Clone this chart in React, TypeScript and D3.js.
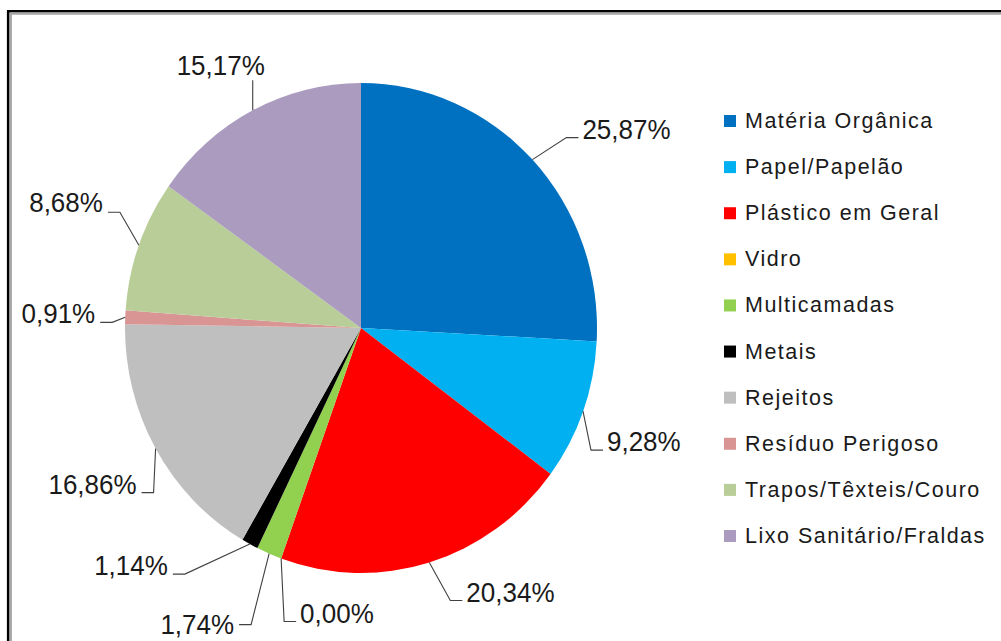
import React from 'react';
import * as d3 from 'd3';

const categories = [
  'Matéria Orgânica',
  'Papel/Papelão',
  'Plástico em Geral',
  'Vidro',
  'Multicamadas',
  'Metais',
  'Rejeitos',
  'Resíduo Perigoso',
  'Trapos/Têxteis/Couro',
  'Lixo Sanitário/Fraldas',
];
const shares = [25.87, 9.28, 20.34, 0.0, 1.74, 1.14, 16.86, 0.91, 8.68, 15.17];
const colors = [
  '#0070c0', '#00b0f0', '#ff0000', '#ffc000', '#92d050',
  '#000000', '#bfbfbf', '#d99594', '#b8cd97', '#aa9bbf',
];

// where each leader line ends, relative to the slice's edge point (px)
const labelEnds = [
  [46, -22], [20, 39], [33, 38], [15, 63], [-30, 71],
  [-77, 30], [-14, 44], [-25, 5], [-31, -33], [0, -30],
];
const labelSides = ['r', 'r', 'r', 'r', 'l', 'l', 'l', 'l', 'l', 't'];
const labelDrop = [1, 1, 2, 1, 9, 1, 1, 1, 0, -5];

const W = 1001;
const H = 641;
const cx = 361;
const cy = 328;
const radius = 236;
const ky = 1.038; // the original picture is slightly stretched vertically
const textSy = 1.04;
const font = '"Liberation Sans", Arial, sans-serif';

const fmt = (v: number) => d3.format('.2f')(v).replace('.', ',') + '%';

export default function App() {
  const pie = d3.pie<number>().sort(null).value(d => d);
  const arcs = pie(shares);
  const arc = d3.arc<d3.PieArcDatum<number>>().innerRadius(0).outerRadius(radius);

  const legendY = d3.scaleLinear().domain([0, categories.length - 1]).range([128, 543]);

  const labels = arcs.map((a, i) => {
    const mid = (a.startAngle + a.endAngle) / 2;
    const ax = cx + radius * Math.sin(mid);
    const ay = cy - radius * ky * Math.cos(mid);
    const ex = ax + labelEnds[i][0];
    const ey = ay + labelEnds[i][1];
    const side = labelSides[i];
    let pts: [number, number][];
    let tx: number;
    let anchor: string;
    if (side === 'r') {
      pts = [[ax, ay], [ex - 12, ey], [ex, ey]];
      tx = ex + 4;
      anchor = 'start';
    } else if (side === 'l') {
      pts = [[ax, ay], [ex + 12, ey], [ex, ey]];
      tx = ex - 5;
      anchor = 'end';
    } else {
      pts = [[ax, ay], [ex, ey]];
      tx = ex - 32;
      anchor = 'middle';
    }
    return { pts, tx, ty: ey + labelDrop[i], anchor, text: fmt(shares[i]) };
  });

  const line = d3.line();

  return (
    <svg
      width={W}
      height={H}
      style={{ position: 'absolute', left: 0, top: 0, background: '#fff' }}
    >
      <rect x={0} y={0} width={W} height={H} fill="#fff" />
      {/* frame */}
      <path d={`M8.2,${H + 10}V11.2H${W + 10}`} fill="none" stroke="#000" strokeWidth={2.6} />
      <path d={`M10.7,${H + 10}V13.6H${W + 10}`} fill="none" stroke="#a6a6a6" strokeWidth={2.4} />

      <g transform={`translate(${cx},${cy}) scale(1,${ky})`}>
        {arcs.map((a, i) => (
          <path key={i} d={arc(a) || ''} fill={colors[i]} />
        ))}
      </g>

      {labels.map((l, i) => (
        <g key={i}>
          <path d={line(l.pts) || ''} fill="none" stroke="#404040" strokeWidth={1.1} />
          <text
            transform={`translate(${l.tx},${l.ty}) scale(1,${textSy})`}
            textAnchor={l.anchor}
            fontFamily={font}
            fontSize={26}
            fill="#1a1a1a"
          >
            {l.text}
          </text>
        </g>
      ))}

      {categories.map((c, i) => (
        <g key={c} transform={`translate(724,${legendY(i)})`}>
          <rect x={0} y={-13} width={12} height={12} fill={colors[i]} />
          <text
            x={21}
            transform={`scale(1,${textSy})`}
            fontFamily={font}
            fontSize={21.5}
            letterSpacing={1.5}
            fill="#1a1a1a"
          >
            {c}
          </text>
        </g>
      ))}
    </svg>
  );
}
